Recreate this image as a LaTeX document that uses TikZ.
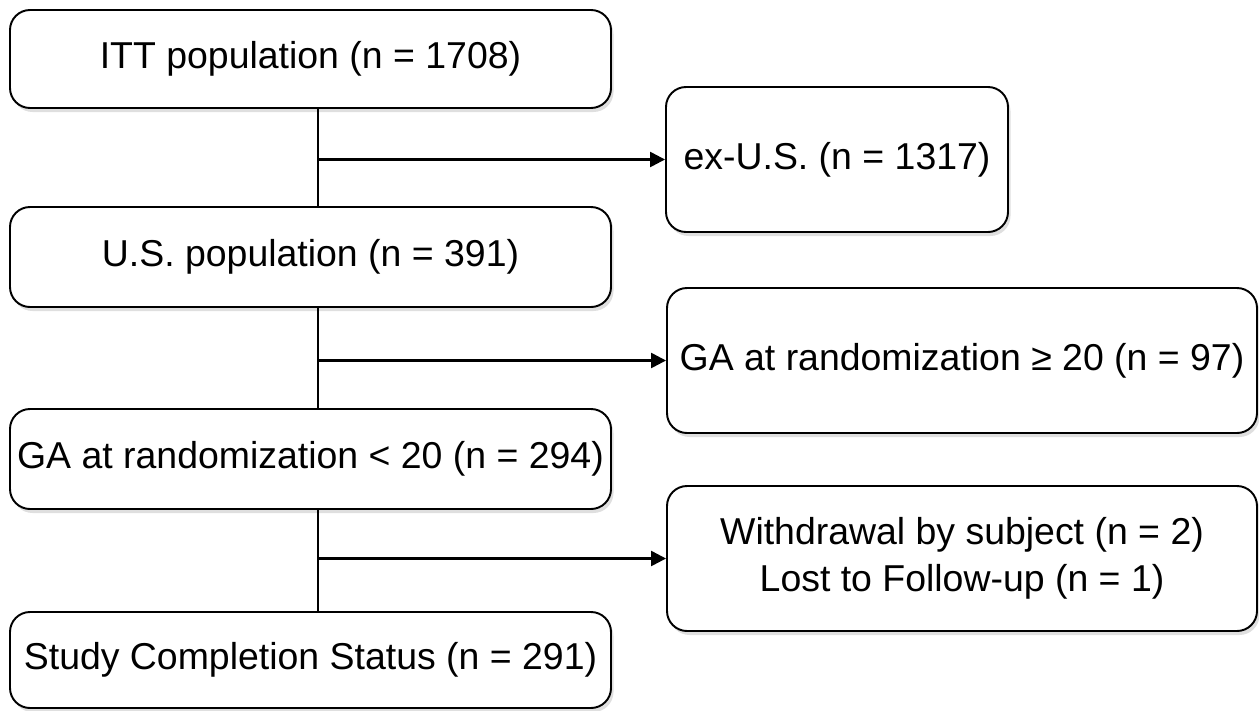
\documentclass[tikz,border=0pt]{standalone}
\usepackage{fontspec}
\setmainfont{Liberation Sans}
\usetikzlibrary{arrows.meta, shadows}

\begin{document}
\begin{tikzpicture}[
    flowbox/.style={draw, line width=1.1pt, rounded corners=0.4cm, fill=white,
        drop shadow={shadow xshift=0.05cm, shadow yshift=-0.08cm, opacity=0.25, fill=gray},
        font=\fontsize{21.3}{27}\selectfont, align=center, inner sep=0pt},
    spine/.style={line width=0.7pt},
    branch/.style={line width=1.4pt, -{Triangle[length=0.3cm, width=0.3cm]}}
]
    \useasboundingbox (0, 0) rectangle (25.18, -14.2);

    % main column
    \node[flowbox, minimum width=12.02cm, minimum height=1.96cm] (itt) at (6.21, -1.18) {ITT population (n = 1708)};
    \node[flowbox, minimum width=12.02cm, minimum height=2.0cm] (us) at (6.21, -5.14) {U.S. population (n = 391)};
    \node[flowbox, minimum width=12.02cm, minimum height=2.0cm] (ga) at (6.21, -9.18) {GA at randomization < 20 (n = 294)};
    \node[flowbox, minimum width=12.02cm, minimum height=1.92cm] (done) at (6.21, -13.2) {Study Completion Status (n = 291)};

    % excluded
    \node[flowbox, minimum width=6.84cm, minimum height=2.9cm] (exus) at (16.74, -3.19) {ex-U.S. (n = 1317)};
    \node[flowbox, minimum width=11.8cm, minimum height=2.9cm] (galate) at (19.24, -7.21) {GA at randomization ≥ 20 (n = 97)};
    \node[flowbox, minimum width=11.8cm, minimum height=2.9cm] (drop) at (19.24, -11.17) {Withdrawal by subject (n = 2)\\Lost to Follow-up (n = 1)};

    \coordinate (axis) at (6.36, 0);

    \draw[spine] (itt.south -| axis) -- (us.north -| axis);
    \draw[spine] (us.south -| axis) -- (ga.north -| axis);
    \draw[spine] (ga.south -| axis) -- (done.north -| axis);

    \draw[branch] (axis |- exus.west) -- (exus.west);
    \draw[branch] (axis |- galate.west) -- (galate.west);
    \draw[branch] (axis |- drop.west) -- (drop.west);
\end{tikzpicture}
\end{document}
